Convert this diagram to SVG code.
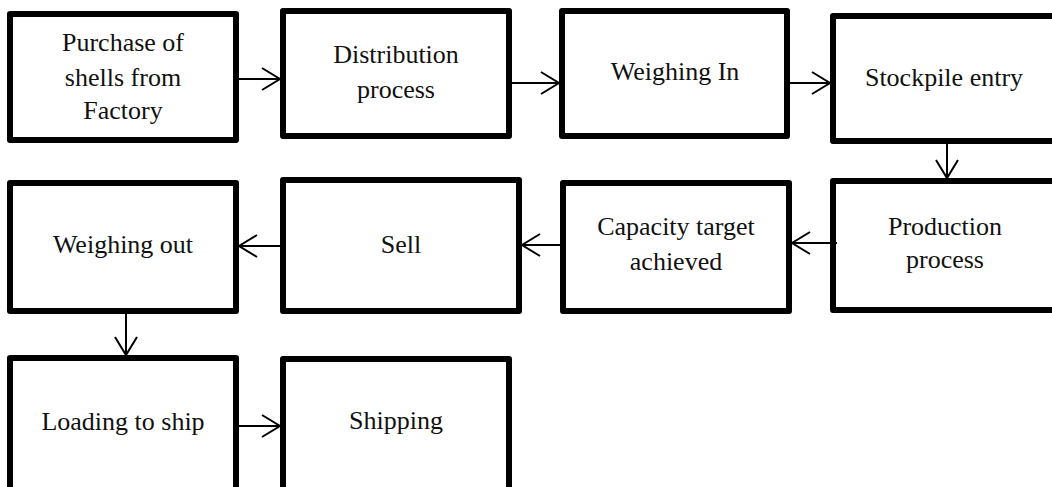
<svg xmlns="http://www.w3.org/2000/svg" width="1052" height="487" viewBox="0 0 1052 487">
  <style>
    .box { fill: #ffffff; stroke: #000000; stroke-width: 6; stroke-linejoin: round; }
    .lbl { font-family: 'Liberation Serif', 'Times New Roman', serif; font-size: 26px; fill: #111111; text-anchor: middle; }
    .link { fill: none; stroke: #000000; stroke-width: 2; marker-end: url(#open-arrow); }
  </style>
  <defs>
    <marker id="open-arrow" markerUnits="userSpaceOnUse" markerWidth="24" markerHeight="26" refX="19" refY="12" orient="auto">
      <path d="M1,1 L19,12 L1,23" fill="none" stroke="#000000" stroke-width="2"/>
    </marker>
  </defs>
  <rect width="1052" height="487" fill="#ffffff"/>

  <!-- process steps -->
  <g id="purchase">
    <rect class="box" x="10" y="14" width="226" height="126"/>
    <text class="lbl" x="123" y="51">Purchase of</text>
    <text class="lbl" x="123" y="86">shells from</text>
    <text class="lbl" x="123" y="119">Factory</text>
  </g>
  <g id="distribution">
    <rect class="box" x="283" y="11" width="226" height="125"/>
    <text class="lbl" x="396" y="63">Distribution</text>
    <text class="lbl" x="396" y="98">process</text>
  </g>
  <g id="weighing-in">
    <rect class="box" x="562" y="11" width="225" height="125"/>
    <text class="lbl" x="675" y="80">Weighing In</text>
  </g>
  <g id="stockpile">
    <rect class="box" x="833" y="16" width="226" height="125"/>
    <text class="lbl" x="944" y="86">Stockpile entry</text>
  </g>
  <g id="production">
    <rect class="box" x="833" y="181" width="226" height="129"/>
    <text class="lbl" x="945" y="235">Production</text>
    <text class="lbl" x="945" y="268">process</text>
  </g>
  <g id="capacity">
    <rect class="box" x="563" y="183" width="226" height="128"/>
    <text class="lbl" x="676" y="235">Capacity target</text>
    <text class="lbl" x="676" y="270">achieved</text>
  </g>
  <g id="sell">
    <rect class="box" x="283" y="180" width="236" height="131"/>
    <text class="lbl" x="401" y="253">Sell</text>
  </g>
  <g id="weighing-out">
    <rect class="box" x="10" y="183" width="226" height="128"/>
    <text class="lbl" x="123" y="253">Weighing out</text>
  </g>
  <g id="loading">
    <rect class="box" x="10" y="358" width="226" height="140"/>
    <text class="lbl" x="123" y="430">Loading to ship</text>
  </g>
  <g id="shipping">
    <rect class="box" x="283" y="359" width="226" height="140"/>
    <text class="lbl" x="396" y="429">Shipping</text>
  </g>

  <!-- flow connectors -->
  <g id="connectors">
    <line class="link" x1="239" y1="79" x2="280" y2="79"/>
    <line class="link" x1="512" y1="83" x2="559" y2="83"/>
    <line class="link" x1="790" y1="83" x2="830" y2="83"/>
    <line class="link" x1="947" y1="144" x2="947" y2="178"/>
    <line class="link" x1="837" y1="243" x2="792" y2="243"/>
    <line class="link" x1="560" y1="245" x2="522" y2="245"/>
    <line class="link" x1="280" y1="246" x2="239" y2="246"/>
    <line class="link" x1="126" y1="314" x2="126" y2="355"/>
    <line class="link" x1="239" y1="426" x2="280" y2="426"/>
  </g>
</svg>
